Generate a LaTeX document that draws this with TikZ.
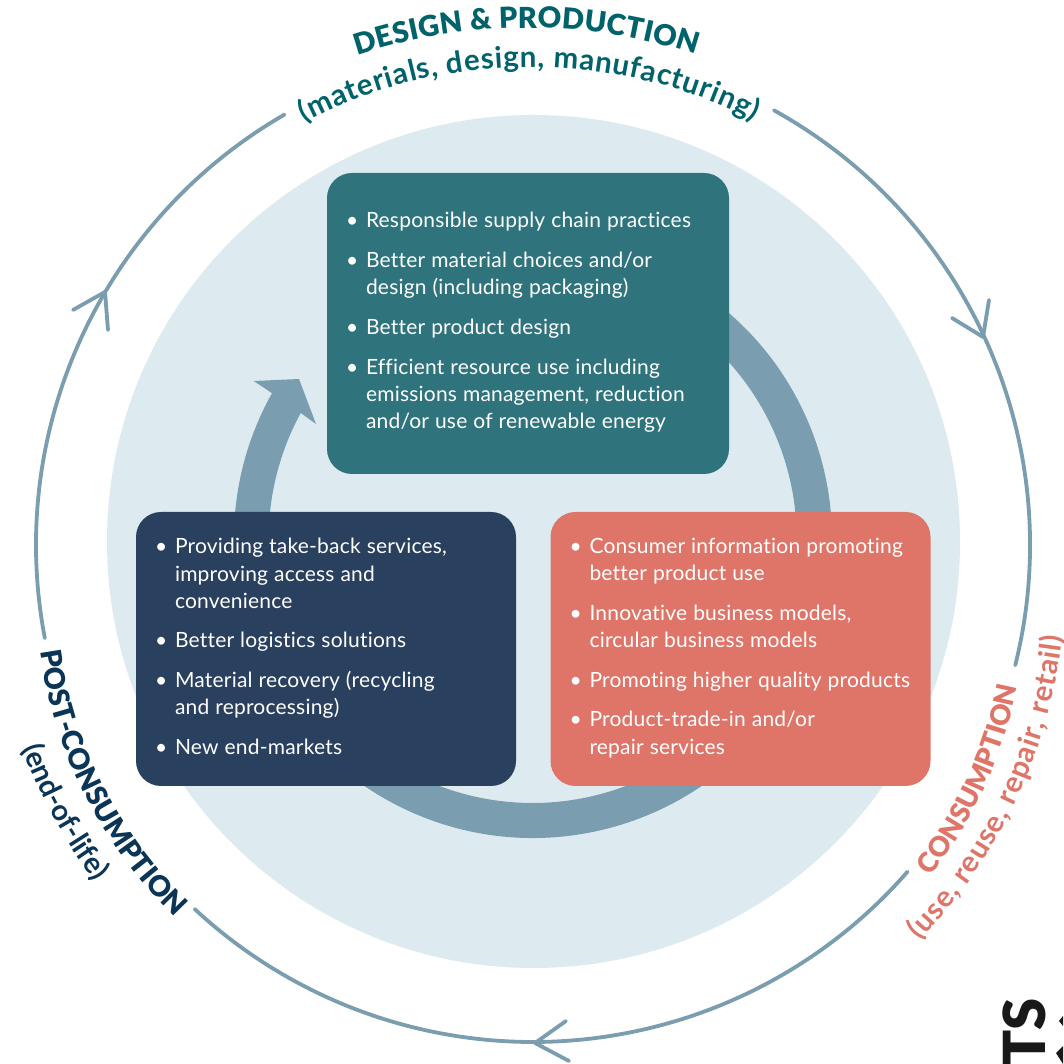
\documentclass[tikz,border=0pt]{standalone}
\usepackage{fontspec}
\setmainfont{Lato}[LetterSpace=1.0,Ligatures=NoCommon]
\newfontfamily\lblack{Lato Black}[Ligatures=NoCommon]
\newfontfamily\lbold{Lato Bold}[Ligatures=NoCommon]
\usetikzlibrary{decorations.text}
\definecolor{tealbox}{HTML}{2F747C}
\definecolor{navybox}{HTML}{2A405F}
\definecolor{coralbox}{HTML}{DE7568}
\definecolor{paleblue}{HTML}{DDEBF0}
\definecolor{ringblue}{HTML}{7A9DAF}
\definecolor{tealtext}{HTML}{00636B}
\definecolor{navytext}{HTML}{0A3556}
\newcommand\bulletlab[1]{#1\hfil}
\newenvironment{bulletlist}{\fontsize{21}{27.3}\selectfont\spaceskip=6pt\color{white}%
 \begin{list}{\textbullet}{\setlength{\leftmargin}{20pt}\setlength{\rightmargin}{-30pt}\setlength{\labelwidth}{20pt}\setlength{\labelsep}{0pt}%
 \setlength{\itemsep}{12.3pt}\setlength{\parsep}{0pt}\setlength{\topsep}{0pt}\setlength{\partopsep}{0pt}\setlength{\itemindent}{0pt}%
 \let\makelabel\bulletlab}\raggedright}{\end{list}}
\newcommand\tealA{\fontsize{29}{29}\lblack\color{tealtext}}
\newcommand\tealB{\fontsize{29.5}{29.5}\lbold\color{tealtext}}
\newcommand\coralA{\fontsize{27.5}{27.5}\lblack\color{coralbox}}
\newcommand\coralB{\fontsize{29.5}{29.5}\lbold\color{coralbox}}
\newcommand\navyA{\fontsize{28.5}{28.5}\lblack\color{navytext}}
\newcommand\navyB{\fontsize{29}{29}\lbold\color{navytext}}
\tikzset{
 infobox/.style={rounded corners=25pt,inner sep=0pt,outer sep=0pt,text width=#1,align=left},
 cycleline/.style={draw=ringblue,line width=3.8pt,line cap=round,line join=round},
 curvedlabel/.style={decorate,decoration={text along path,text align=fit to path,text={#1}}}
}
\begin{document}
\begin{tikzpicture}[x=1pt,y=1pt]
\path[use as bounding box] (0,0) rectangle (1063,1064);
\clip (0,0) rectangle (1063,1064);
\fill[white] (0,0) rectangle (1063,1064);
\fill[paleblue] (533.5,522.5) circle[radius=426.5];
% outer cycle
\begin{scope}[shift={(533,519)}]
\path[cycleline] (61:497) arc[start angle=61,end angle=-14,radius=497];
\path[cycleline] (-41.1:497) arc[start angle=-41.1,end angle=-132.9,radius=497];
\path[cycleline] (190.8:497) arc[start angle=190.8,end angle=120,radius=497];
\end{scope}
\coordinate (tipL) at (105,772);
\coordinate (tipR) at (983,727);
\coordinate (tipB) at (535,21);
\path[cycleline] (73,754) -- (tipL) -- (108,734);
\path[cycleline] (952,746) -- (tipR) -- (989,764);
\path[cycleline] (566,43) -- (tipB) -- (569,3);
% inner ring with arrow
\fill[ringblue] (533,525) ++(60:299) arc[start angle=60,end angle=-209.2,radius=299]
  -- (253.7,683) -- (299,685) -- (316,640) -- (300.7,651)
  arc[start angle=151.5,end angle=420,radius=264] -- cycle;
% boxes
\node[infobox=364pt,fill=tealbox,minimum width=402pt,minimum height=301pt] (design) at (528,740.5) {%
 \begin{minipage}{364pt}\begin{bulletlist}
 \item Responsible supply chain practices
 \item Better material choices and/or\\design (including packaging)
 \item Better product design
 \item Efficient resource use including\\emissions management, reduction\\and/or use of renewable energy
 \end{bulletlist}\vspace*{2pt}\end{minipage}};
\node[infobox=342pt,fill=navybox,minimum width=380pt,minimum height=274pt] (post) at (326,415) {%
 \begin{minipage}{342pt}\begin{bulletlist}
 \item Providing take-back services,\\improving access and\\convenience
 \item Better logistics solutions
 \item Material recovery (recycling\\and reprocessing)
 \item New end-markets
 \end{bulletlist}\vspace*{5pt}\end{minipage}};
\node[infobox=342pt,fill=coralbox,minimum width=380pt,minimum height=274pt] (use) at (740.5,415) {%
 \begin{minipage}{342pt}\begin{bulletlist}
 \item Consumer information promoting\\better product use
 \item Innovative business models,\\circular business models
 \item Promoting higher quality products
 \item Product-trade-in and/or\\repair services
 \end{bulletlist}\vspace*{2pt}\end{minipage}};
% curved labels
\path[curvedlabel={|\tealA|DESIGN {\&} PRODUCTION},shift={(528,493)}] (108.3:543) arc[start angle=108.3,end angle=72,radius=543];
\path[curvedlabel={|\tealB|(materials, design, manufacturing)},shift={(531,506)}] (117.5:491) arc[start angle=117.5,end angle=63,radius=491];
\path[curvedlabel={|\coralA|CONSUMPTION},shift={(576,465)}] (-38:450) arc[start angle=-38,end angle=-11.5,radius=450];
\path[curvedlabel={|\coralB|(use, reuse, repair, retail)},shift={(544,486)}] (-44:522) arc[start angle=-44,end angle=-6.4,radius=522];
\path[curvedlabel={|\navyA|POST-CONSUMPTION},shift={(495.7,476.3)}] (188:460) arc[start angle=188,end angle=225.5,radius=460];
\path[curvedlabel={|\navyB|(end-of-life)},shift={(491.9,487)}] (200:500) arc[start angle=200,end angle=217.3,radius=500];
% cut-off text at the page corner
\node[rotate=90,inner sep=0pt,font=\fontsize{58}{58}\lblack,text=black!90] (cutoff) at (1024,32) {TS};
\fill[black!90] (1063,48) -- (1059,43) -- (1063,38) -- cycle;
\fill[black!90] (1063,18) -- (1056,11) -- (1063,0) -- cycle;
\end{tikzpicture}
\end{document}
